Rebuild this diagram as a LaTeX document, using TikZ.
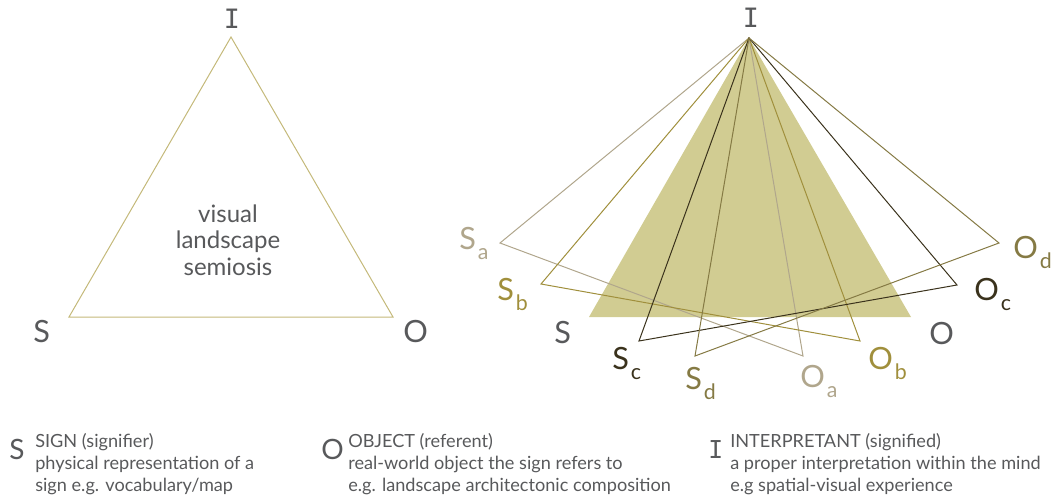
\documentclass[tikz,border=0pt]{standalone}
\usepackage{fontspec}
\setmainfont{Lato}
\newfontfamily\slabfont{DejaVu Sans Mono}
\usepackage{xcolor}
\usepackage{tikz}
\usetikzlibrary{positioning}
\definecolor{txtgray}{HTML}{58595B}
\definecolor{edgegold}{HTML}{C4B97A}
\definecolor{filltri}{HTML}{D1CC92}
\definecolor{cola}{HTML}{B0A68C}
\definecolor{colb}{HTML}{A08F3C}
\definecolor{colc}{HTML}{3A321C}
\definecolor{cold}{HTML}{857A44}
\newcommand{\vlbl}[2]{#1\kern1.5pt\raisebox{-7.5pt}{\fontsize{16}{16}\selectfont #2}}
\tikzset{
  vtx/.style={inner sep=0pt,anchor=base west,font=\fontsize{23}{23}\selectfont},
  apex/.style={inner sep=0pt,font=\fontsize{20}{20}\selectfont\slabfont,text=txtgray},
  tri/.style={line width=0.75pt,line join=miter},
  leg/.style={inner sep=0pt,anchor=base west,align=left,
              font=\fontsize{13.6}{16.3}\selectfont,text=txtgray},
  legkey/.style={inner sep=0pt,anchor=base west,font=\fontsize{21}{21}\selectfont,text=txtgray},
}

\begin{document}
\begin{tikzpicture}[x=0.75pt,y=-0.75pt]
\useasboundingbox (0,0) rectangle (1058,500);
% left triad
\coordinate (li) at (231,37);
\coordinate (ls) at (69,317);
\coordinate (lo) at (393,317);
\draw[tri,edgegold] (li) -- (ls) -- (lo) -- cycle;
\node[apex] (liL) at (232,18.5) {I};
\node[vtx,text=txtgray] (lsL) at (33,342) {S};
\node[vtx,text=txtgray] (loL) at (403,342) {O};
\node[align=center,inner sep=0pt,font=\fontsize{18}{20}\selectfont,text=txtgray] (sem) at (228,240) {visual\\landscape\\semiosis};
% right triad
\coordinate (ri) at (749,38);
\coordinate (rs) at (589,317);
\coordinate (ro) at (911,317);
\fill[filltri] (ri) -- (rs) -- (ro) -- cycle;
\coordinate (sa) at (500,243); \coordinate (oa) at (803,356);
\coordinate (sb) at (541,284); \coordinate (ob) at (860,341);
\coordinate (sc) at (639,341); \coordinate (oc) at (957,285);
\coordinate (sd) at (695,356); \coordinate (od) at (999,243);
\draw[tri,cola] (ri) -- (sa) -- (oa) -- cycle;
\draw[tri,colb] (ri) -- (sb) -- (ob) -- cycle;
\draw[tri,colc] (ri) -- (sc) -- (oc) -- cycle;
\draw[tri,cold] (ri) -- (sd) -- (od) -- cycle;
\node[apex] (riL) at (751,18) {I};
\node[vtx,text=txtgray] (rsL) at (554,343) {S};
\node[vtx,text=txtgray] (roL) at (929,344) {O};
\node[vtx,text=cola] (saL) at (459,249) {\vlbl{S}{a}};
\node[vtx,text=colb] (sbL) at (497,300) {\vlbl{S}{b}};
\node[vtx,text=colc] (scL) at (612,369) {\vlbl{S}{c}};
\node[vtx,text=cold] (sdL) at (685,389) {\vlbl{S}{d}};
\node[vtx,text=cola] (oaL) at (800,387) {\vlbl{O}{a}};
\node[vtx,text=colb] (obL) at (868,369) {\vlbl{O}{b}};
\node[vtx,text=colc] (ocL) at (974,300) {\vlbl{O}{c}};
\node[vtx,text=cold] (odL) at (1013,258) {\vlbl{O}{d}};
% legend
\node[legkey] (kS) at (9,459) {S};
\node[leg] (tS) at (35,491) {SIGN (signifier)\\physical representation of a\\sign e.g. vocabulary/map};
\node[legkey] (kO) at (321,459) {O};
\node[leg] (tO) at (348,491) {OBJECT (referent)\\real-world object the sign refers to\\e.g. landscape architectonic composition};
\node[legkey,font=\fontsize{18.5}{18.5}\selectfont\slabfont] (kI) at (708,458) {I};
\node[leg] (tI) at (730,491) {INTERPRETANT (signified)\\a proper interpretation within the mind\\e.g spatial-visual experience};
\end{tikzpicture}
\end{document}
